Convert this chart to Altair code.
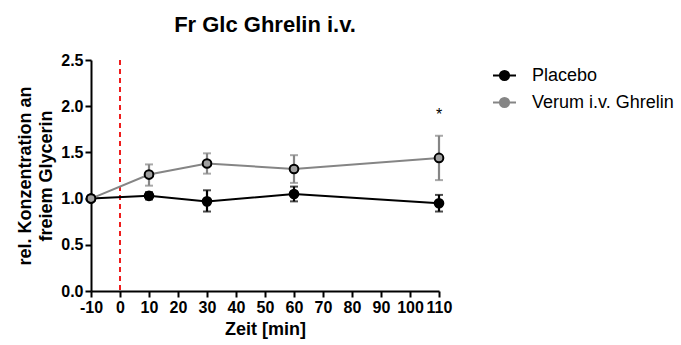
import altair as alt
import pandas as pd

time_points = [-10, 10, 30, 60, 110]
groups = ["Placebo", "Verum i.v. Ghrelin"]
placebo_mean = [1.00, 1.03, 0.97, 1.05, 0.95]
placebo_lo = [1.00, 0.99, 0.86, 0.97, 0.86]
placebo_hi = [1.00, 1.07, 1.09, 1.13, 1.04]
verum_mean = [1.00, 1.26, 1.38, 1.32, 1.44]
verum_lo = [1.00, 1.14, 1.27, 1.17, 1.20]
verum_hi = [1.00, 1.37, 1.49, 1.47, 1.68]
star_x = [110]
star_y = [1.9]
star_text = ["*"]
x_ticks = list(range(-10, 111, 10))
y_ticks = [0.0, 0.5, 1.0, 1.5, 2.0, 2.5]

rows = []
for g, m, lo, hi in [(groups[0], placebo_mean, placebo_lo, placebo_hi),
                     (groups[1], verum_mean, verum_lo, verum_hi)]:
    for t, a, b, c in zip(time_points, m, lo, hi):
        rows.append({"Zeit": t, "Gruppe": g, "mean": a, "lo": b, "hi": c})
df = pd.DataFrame(rows)

FONT = "Liberation Sans"
xs = alt.Scale(domain=[-10, 110], nice=False, zero=False)
ys = alt.Scale(domain=[0, 2.5], nice=False)
col_scale = alt.Scale(domain=groups, range=["#000000", "#858585"])
fill_scale = alt.Scale(domain=groups, range=["#000000", "#a0a0a0"])

legend_path = ("M-1,0L1,0M-0.4,0A0.4,0.4,0,1,1,0.4,0"
               "A0.4,0.4,0,1,1,-0.4,0Z")

legend = alt.Legend(
    title=None, orient="none", legendX=401, legendY=3,
    symbolType=legend_path, symbolSize=529,
    symbolStrokeWidth=2, symbolOpacity=1, labelFont=FONT,
    labelFontSize=18, labelColor="black",
    labelOffset=15, rowPadding=5, padding=0)

x_axis = alt.Axis(values=x_ticks, labelOverlap=False, labelFlush=False,
                  labelExpr="datum.value")
y_axis = alt.Axis(values=y_ticks, format=".1f")
x_title = "Zeit [min]"
y_title = ["rel. Konzentration an", "freiem Glycerin"]

def X(field):
    return alt.X(field, scale=xs, title=x_title, axis=x_axis)

def Y(field):
    return alt.Y(field, scale=ys, title=y_title, axis=y_axis)

base = alt.Chart(df)

err = base.mark_errorbar(
    ticks={"strokeWidth": 2, "size": 8},
    rule={"strokeWidth": 2.2},
    size=8, thickness=2).encode(
    x=X("Zeit:Q"),
    y=Y("lo:Q"),
    y2="hi:Q",
    color=alt.Color("Gruppe:N", scale=col_scale, legend=legend),
)

line = base.mark_line(strokeWidth=2).encode(
    x=X("Zeit:Q"), y=Y("mean:Q"),
    color=alt.Color("Gruppe:N", scale=col_scale, legend=legend),
)

pts = base.mark_point(filled=True, size=75, strokeWidth=2, opacity=1,
                      stroke="black").encode(
    x=X("Zeit:Q"),
    y=Y("mean:Q"),
    fill=alt.Fill("Gruppe:N", scale=fill_scale, legend=legend),
)

vline = alt.Chart(pd.DataFrame({"x": [0]})).mark_rule(
    color="#ee1c1c", strokeWidth=2, strokeDash=[5, 4]).encode(
    x=X("x:Q"))

star = alt.Chart(pd.DataFrame({"x": star_x, "y": star_y, "t": star_text})).mark_text(
    font=FONT, fontSize=16, color="black", baseline="middle").encode(
    x=X("x:Q"), y=Y("y:Q"), text="t:N")

chart = alt.layer(vline, err, line, pts, star).properties(
    width=348, height=231,
    title=alt.TitleParams("Fr Glc Ghrelin i.v.", font=FONT, fontSize=22,
                          fontWeight="bold", anchor="middle", offset=15, color="black"),
    autosize=alt.AutoSizeParams(type="none"),
    padding={"left": 91, "top": 60, "right": 242, "bottom": 54},
).configure_view(stroke=None).configure_axis(
    grid=False, domainColor="black", domainWidth=2, tickColor="black",
    tickWidth=2, tickSize=6, labelFont=FONT, labelFontSize=16,
    labelFontWeight="bold", labelColor="black", labelPadding=2,
    titleFont=FONT, titleFontSize=18, titleFontWeight="bold",
    titleColor="black", titlePadding=5,
).configure_axisY(titleLineHeight=21).configure_axisX(labelOverlap=False)

chart.save("out.html", embed_options={"renderer": "svg", "actions": False})
